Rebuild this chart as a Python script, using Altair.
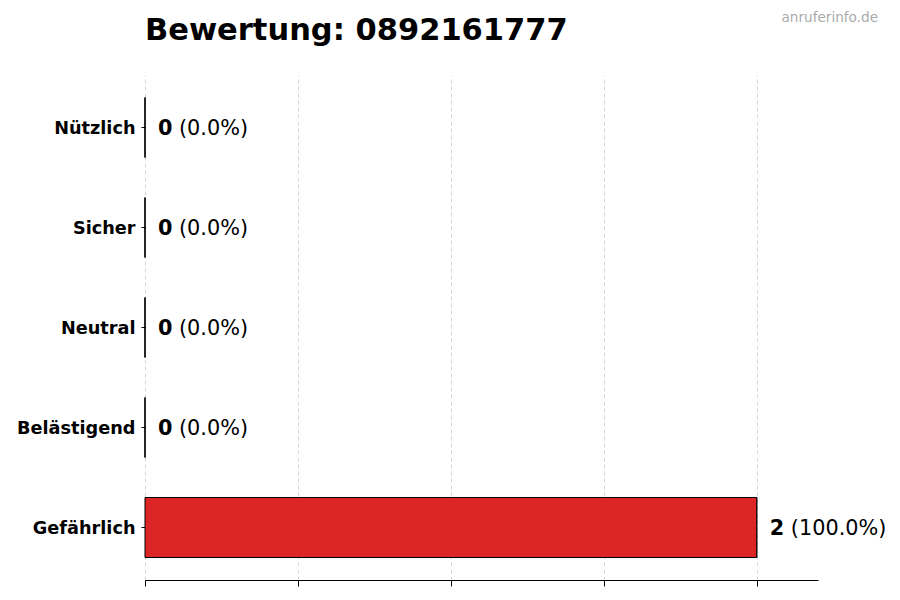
import altair as alt
import pandas as pd

# ---- data ----
title_text = ["Bewertung: 0892161777"]
watermark = ["anruferinfo.de"]
categories = ["Nützlich", "Sicher", "Neutral", "Belästigend", "Gefährlich"]
counts = [0, 0, 0, 0, 2]
bar_colors = ["#16a34a", "#2563eb", "#6b7280", "#f59e0b", "#dc2626"]
x_ticks = [0, 0.5, 1, 1.5, 2]
x_max = 2.2

total = sum(counts)
df = pd.DataFrame({
    "cat": categories,
    "count": counts,
    "color": bar_colors,
    "num": [str(c) for c in counts],
    "pct": [f"({(c / total * 100 if total else 0):.1f}%)" for c in counts],
})

FONT = "DejaVu Sans"

x_enc = alt.X(
    "count:Q",
    scale=alt.Scale(domain=[0, x_max], nice=False, zero=True),
    axis=alt.Axis(
        values=x_ticks, labels=False, title=None, grid=True,
        gridColor="#cccccc", gridDash=[4, 3], gridWidth=0.8,
        domain=True, domainColor="black", domainWidth=1,
        ticks=True, tickColor="black", tickSize=6, tickWidth=1,
    ),
)
y_enc = alt.Y(
    "cat:N",
    sort=categories,
    scale=alt.Scale(paddingInner=0.4, paddingOuter=0.225),
    axis=alt.Axis(
        title=None, domain=False, grid=False,
        ticks=True, tickColor="black", tickSize=4, tickWidth=1,
        labelFont=FONT, labelFontSize=17.7, labelFontWeight="bold",
        labelColor="black", labelPadding=6, labelOffset=1.5,
    ),
)

base = alt.Chart(df)

bars = base.mark_bar(stroke="black", strokeWidth=1, opacity=1).encode(
    x=x_enc,
    x2=alt.datum(0),
    y=y_enc,
    color=alt.Color("color:N", scale=None),
)

edges = base.mark_tick(color="black", thickness=1, size=60, orient="vertical").encode(
    x="count:Q",
    y=alt.Y("cat:N", sort=categories),
)

num_text = base.mark_text(
    align="left", baseline="middle", dx=13, dy=1.5, font=FONT, fontSize=20.8,
    fontWeight="bold", color="black",
).encode(x="count:Q", y=alt.Y("cat:N", sort=categories), text="num:N")

pct_text = base.mark_text(
    align="left", baseline="middle", dx=34, dy=1.5, font=FONT, fontSize=20.8,
    color="black",
).encode(x="count:Q", y=alt.Y("cat:N", sort=categories), text="pct:N")

ttl = alt.Chart(pd.DataFrame({"t": title_text})).mark_text(
    align="left", baseline="alphabetic", font=FONT, fontSize=30.5,
    fontWeight="bold", color="black",
).encode(x=alt.value(0), y=alt.value(-35), text="t:N")

wm = alt.Chart(pd.DataFrame({"t": watermark})).mark_text(
    align="right", baseline="alphabetic", font=FONT, fontSize=13.6, color="#aaaaaa",
).encode(x=alt.value(733), y=alt.value(-53), text="t:N")

chart = alt.layer(bars, edges, num_text, pct_text, ttl, wm).properties(
    width=673,
    height=505,
    autosize=alt.AutoSizeParams(type="none"),
    padding={"left": 137, "top": 67, "right": 68, "bottom": 8},
).configure(background="white").configure_view(stroke=None)

chart.save("out.html", embed_options={"renderer": "svg", "actions": False})
